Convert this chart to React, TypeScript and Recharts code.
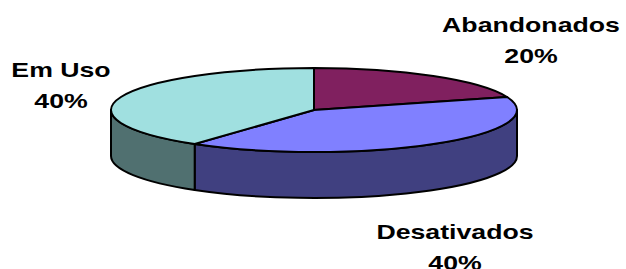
import React from "react";
import { PieChart, Pie, Cell } from "recharts";

// Pizza 3D (estilo Excel) desenhada com setores elipticos + parede lateral.
const CATEGORIAS = ["Abandonados", "Desativados", "Em Uso"];
const VALORES = [20, 40, 40];
const ROTULOS_PCT = ["20%", "40%", "40%"];

const CORES_TOPO = ["#80205F", "#8080FF", "#A0E0E0"];
const CORES_LADO = ["#401030", "#404080", "#507070"];

// posicao dos rotulos (centro x, baseline da primeira linha)
const POS_ROTULO = [
  { x: 531, y: 32 },
  { x: 455, y: 239 },
  { x: 61, y: 77 },
];

const W = 626;
const H = 269;
const CX = 314;
const CY = 110;
const RX = 203;
const RY = 42;
const PROF = 46;

const dados = CATEGORIAS.map((nome, i) => ({ nome, valor: VALORES[i] }));

const RAD = Math.PI / 180;
const pt = (cx: number, cy: number, rx: number, ry: number, a: number) => [
  cx + rx * Math.cos(a * RAD),
  cy - ry * Math.sin(a * RAD),
];

function Setor3D(props: any) {
  const { cx, cy, outerRadius, startAngle, endAngle, index } = props;
  const rx = outerRadius;
  const ry = (outerRadius * RY) / RX;
  const i = index ?? 0;
  const a1 = Math.max(startAngle, endAngle);
  const a2 = Math.min(startAngle, endAngle);
  const [sx, sy] = pt(cx, cy, rx, ry, a1);
  const [ex, ey] = pt(cx, cy, rx, ry, a2);
  const grande = a1 - a2 > 180 ? 1 : 0;
  const topo = `M${cx},${cy} L${sx},${sy} A${rx},${ry} 0 ${grande} 1 ${ex},${ey} Z`;

  // parede frontal: parte do arco entre 0 e -180 graus
  const paredes: string[] = [];
  for (const off of [0, -360]) {
    const hi = Math.min(a1, 0 + off);
    const lo = Math.max(a2, -180 + off);
    if (lo < hi) {
      const [hx, hy] = pt(cx, cy, rx, ry, hi);
      const [lx, ly] = pt(cx, cy, rx, ry, lo);
      paredes.push(
        `M${hx},${hy} A${rx},${ry} 0 0 1 ${lx},${ly} L${lx},${ly + PROF} A${rx},${ry} 0 0 0 ${hx},${hy + PROF} Z`,
      );
    }
  }

  return (
    <g>
      {paredes.map((d, k) => (
        <path key={k} d={d} fill={CORES_LADO[i]} stroke="#000" strokeWidth={2} strokeLinejoin="round" />
      ))}
      <path d={topo} fill={CORES_TOPO[i]} stroke="#000" strokeWidth={2} strokeLinejoin="round" />
    </g>
  );
}

function Rotulo(props: any) {
  const { index } = props;
  const p = POS_ROTULO[index];
  const estilo = {
    textAnchor: "middle" as const,
    fontFamily: "Liberation Sans, Arial, sans-serif",
    fontWeight: "bold",
    fontSize: 21,
    fill: "#000",
  };
  return (
    <g>
      <text transform={`translate(${p.x},${p.y}) scale(1.27,1)`} {...estilo}>
        {CATEGORIAS[index]}
      </text>
      <text transform={`translate(${p.x},${p.y + 31}) scale(1.27,1)`} {...estilo}>
        {ROTULOS_PCT[index]}
      </text>
    </g>
  );
}

export default function App() {
  return (
    <div style={{ position: "absolute", left: 0, top: 0, width: W, height: H, background: "#fff", overflow: "hidden" }}>
      <PieChart width={W} height={H} margin={{ top: 0, right: 0, bottom: 0, left: 0 }}>
        <Pie
          data={dados}
          dataKey="valor"
          nameKey="nome"
          cx={CX}
          cy={CY}
          innerRadius={0}
          outerRadius={RX}
          startAngle={90}
          endAngle={-270}
          stroke="#000"
          shape={Setor3D}
          inactiveShape={Setor3D}
          activeShape={Setor3D}
          label={Rotulo}
          labelLine={false}
          isAnimationActive={false}
        >
          {dados.map((d, i) => (
            <Cell key={d.nome} fill={CORES_TOPO[i]} />
          ))}
        </Pie>
      </PieChart>
    </div>
  );
}
